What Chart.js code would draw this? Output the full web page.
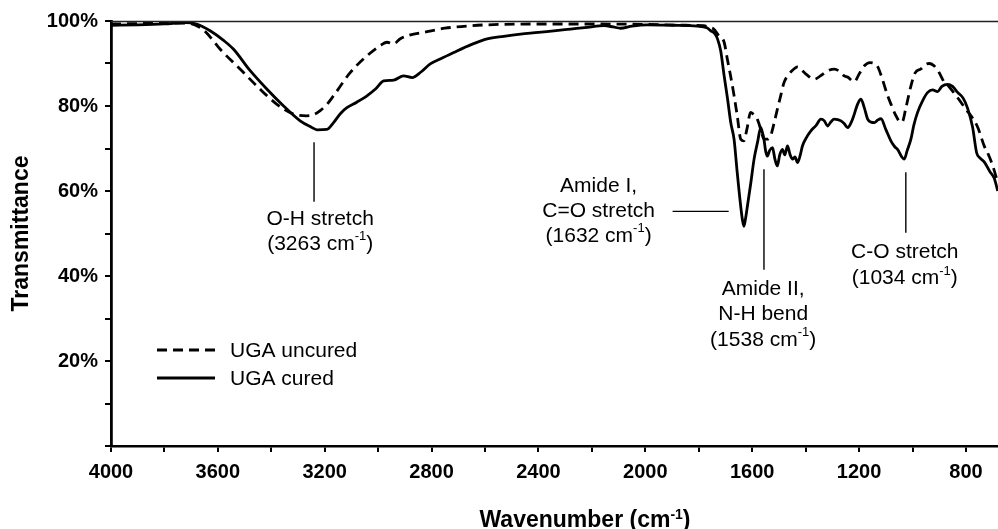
<!DOCTYPE html>
<html>
<head>
<meta charset="utf-8">
<script src="https://cdn.jsdelivr.net/npm/chart.js@4.4.1/dist/chart.umd.min.js"></script>
<style>
html,body{margin:0;padding:0;background:#fff;}
#wrap{width:998px;height:529px;position:relative;}
</style>
</head>
<body>
<div id="wrap"><canvas id="c" width="998" height="529"></canvas></div>
<script>
// ---------- data ----------
const seriesLabels = ['UGA uncured', 'UGA cured'];

const curedWn = [4000,3900,3800,3720,3680,3629,3580,3542,3479,3417,3354,3292,3250,3229,3192,3167,3140,3117,3080,3042,3010,2979,2942,2905,2873,2840,2805,2760,2717,2650,2592,2530,2467,2400,2343,2280,2217,2155,2120,2093,2050,1993,1900,1805,1770,1755,1740,1730,1718,1705,1693,1680,1668,1656,1643,1636,1631,1625,1618,1605,1593,1580,1568,1562,1556,1550,1543,1535,1524,1515,1506,1497,1487,1478,1468,1458,1449,1440,1430,1420,1412,1395,1381,1360,1343,1330,1318,1305,1293,1280,1268,1255,1243,1225,1205,1193,1180,1168,1155,1143,1130,1118,1100,1081,1065,1056,1040,1031,1020,1006,995,981,960,943,925,906,890,869,850,831,810,794,775,760,748,731,710,694,681];
const curedT  = [99.0,99.1,99.3,99.6,99.3,97.7,95.5,93.4,88.3,84.0,80.0,76.5,75.0,74.4,74.5,76.1,78.3,79.6,80.9,82.4,84.0,85.9,86.1,87.1,86.7,88.0,89.9,91.3,92.6,94.5,95.8,96.4,96.9,97.3,97.7,98.1,98.5,98.9,98.6,98.3,98.8,99.1,99.0,98.8,98.4,97.7,97.0,95.8,93.0,87.1,82.0,76.0,72.2,64.3,56.4,53.0,51.7,53.5,56.4,62.0,67.5,71.5,74.9,73.8,72.2,69.5,68.2,69.5,70.2,67.5,65.9,68.5,69.8,68.5,70.6,68.5,67.5,68.0,66.7,68.5,70.6,72.8,74.1,75.5,76.9,76.5,75.3,76.3,76.9,76.8,76.5,75.8,74.9,76.8,80.5,81.6,79.5,76.9,76.2,76.1,76.7,77.0,74.5,71.8,70.3,69.8,68.0,67.5,69.5,72.2,75.5,78.5,81.5,83.2,83.8,83.4,84.6,85.1,84.6,83.2,81.8,79.5,75.0,69.0,67.8,66.8,64.5,63.0,60.0];

const uncuredWn = [4000,3900,3800,3720,3670,3642,3592,3517,3454,3379,3317,3267,3240,3217,3190,3167,3104,3042,2990,2967,2942,2920,2892,2817,2750,2650,2592,2400,2217,2000,1850,1782,1760,1744,1725,1705,1693,1681,1668,1656,1643,1631,1620,1606,1595,1581,1568,1556,1543,1531,1518,1506,1493,1481,1462,1444,1430,1419,1395,1368,1340,1320,1293,1270,1256,1243,1218,1200,1181,1160,1143,1130,1118,1093,1081,1062,1045,1038,1025,1006,990,969,950,937,920,906,894,881,869,850,820,800,781,756,731,719,700,681];
const uncuredT  = [99.3,99.4,99.5,99.5,98.6,97.2,93.4,88.7,84.7,80.4,78.1,77.7,78.0,78.9,80.5,82.4,87.9,91.8,94.3,95.0,94.6,95.7,96.5,97.5,98.3,98.9,99.1,99.3,99.3,99.2,99.0,98.9,98.5,98.1,96.5,95.0,91.0,87.1,82.5,77.7,72.2,71.8,74.5,78.5,78.0,76.9,74.5,72.2,72.2,73.0,76.0,79.2,82.5,85.5,87.5,88.7,89.2,88.7,87.3,86.3,87.3,88.2,88.7,88.0,87.1,86.8,85.7,87.5,89.4,90.2,90.0,89.2,87.3,82.4,80.5,77.7,76.2,76.3,79.5,84.7,87.8,88.7,89.8,90.0,89.5,88.5,87.1,85.6,85.0,83.5,81.0,79.2,77.7,75.0,70.5,69.0,66.0,62.0];

const xTickValuesShown = [4000,3600,3200,2800,2400,2000,1600,1200,800];
const yTickValuesShown = [20,40,60,80,100];

// ---------- annotation labels (text) ----------
const annotTexts = [
  ['O-H stretch', '(3263 cm^-1^)'],
  ['Amide I,', 'C=O stretch', '(1632 cm^-1^)'],
  ['Amide II,', 'N-H bend', '(1538 cm^-1^)'],
  ['C-O stretch', '(1034 cm^-1^)']
];

const FONT = "'Liberation Sans', Arial, Helvetica, sans-serif";

const toXY = (wn, t) => wn.map((w, i) => ({x: w, y: t[i]}));

// annotation geometry in data coordinates (wavenumber, %)
const annotGeom = [
  {segs: [[[3240, 71.5], [3240, 57.5]]], tx: 3217, ty: [53.4, 47.5]},
  {segs: [[[1898, 55.2], [1688, 55.2]]], tx: 2175, ty: [61.1, 55.2, 49.3]},
  {segs: [[[1556, 65.1], [1556, 41.5]]], tx: 1559, ty: [36.8, 30.9, 25.0]},
  {segs: [[[1025, 64.4], [1025, 50.2]]], tx: 1029, ty: [45.5, 39.4]}
];

function drawRich(ctx, str, cx, cy, size, bold) {
  const parts = str.split('^');
  const w = (fw, s) => fw ? s * 0.62 : s;
  let total = 0;
  const fonts = parts.map((p, i) => (bold ? 'bold ' : '') + Math.round(i % 2 ? size * 0.62 : size) + 'px ' + FONT);
  parts.forEach((p, i) => { ctx.font = fonts[i]; total += ctx.measureText(p).width; });
  let x = cx - total / 2;
  ctx.textAlign = 'left';
  parts.forEach((p, i) => {
    ctx.font = fonts[i];
    ctx.fillText(p, x, i % 2 ? cy - size * 0.36 : cy);
    x += ctx.measureText(p).width;
  });
}

const extras = {
  id: 'extras',
  afterDatasetsDraw(chart) {
    const {ctx, chartArea, scales} = chart;
    const xs = scales.x, ys = scales.y;
    ctx.save();
    // top border line
    ctx.strokeStyle = '#222';
    ctx.lineWidth = 1.3;
    ctx.beginPath();
    ctx.moveTo(chartArea.left, chartArea.top + 0.5);
    ctx.lineTo(chartArea.right, chartArea.top + 0.5);
    ctx.stroke();

    // annotations
    ctx.fillStyle = '#000';
    ctx.strokeStyle = '#000';
    ctx.lineWidth = 1.4;
    ctx.textBaseline = 'middle';
    annotGeom.forEach((a, k) => {
      a.segs.forEach(s => {
        ctx.beginPath();
        ctx.moveTo(xs.getPixelForValue(s[0][0]), ys.getPixelForValue(s[0][1]));
        ctx.lineTo(xs.getPixelForValue(s[1][0]), ys.getPixelForValue(s[1][1]));
        ctx.stroke();
      });
      annotTexts[k].forEach((t, j) => {
        drawRich(ctx, t, xs.getPixelForValue(a.tx), ys.getPixelForValue(a.ty[j]), 21, false);
      });
    });

    // legend
    const ds = chart.data.datasets;
    const lx0 = chartArea.left + 46, lx1 = chartArea.left + 104;
    const ly = [chartArea.top + 329, chartArea.top + 357];
    ds.forEach((d, i) => {
      ctx.save();
      ctx.strokeStyle = '#000';
      ctx.lineWidth = 3;
      ctx.setLineDash(d.borderDash || []);
      ctx.beginPath();
      ctx.moveTo(lx0, ly[i]);
      ctx.lineTo(lx1, ly[i]);
      ctx.stroke();
      ctx.restore();
      ctx.font = '21px ' + FONT;
      ctx.textAlign = 'left';
      ctx.textBaseline = 'middle';
      ctx.fillText(d.label, lx0 + 73, ly[i] + 1);
    });

    // axis titles
    ctx.textBaseline = 'alphabetic';
    ctx.save();
    ctx.translate(28, (chartArea.top + chartArea.bottom) / 2 + 0);
    ctx.rotate(-Math.PI / 2);
    ctx.font = 'bold 23px ' + FONT;
    ctx.textAlign = 'center';
    ctx.fillText('Transmittance', 0, 0);
    ctx.restore();
    drawRich(ctx, 'Wavenumber (cm^-1^)', 585, 527, 23, true);
    ctx.restore();
  }
};

new Chart(document.getElementById('c'), {
  type: 'line',
  data: {
    datasets: [
      {label: seriesLabels[0], data: toXY(uncuredWn, uncuredT), borderColor: '#000', borderWidth: 2.8,
       borderDash: [10, 6], pointRadius: 0, fill: false, cubicInterpolationMode: 'monotone'},
      {label: seriesLabels[1], data: toXY(curedWn, curedT), borderColor: '#000', borderWidth: 2.8,
       pointRadius: 0, fill: false, cubicInterpolationMode: 'monotone'}
    ]
  },
  options: {
    responsive: false,
    animation: false,
    devicePixelRatio: 1,
    parsing: false,
    layout: {padding: {left: 0, top: 21, right: 0, bottom: 33}},
    plugins: {legend: {display: false}, tooltip: {enabled: false}},
    scales: {
      x: {
        type: 'linear', reverse: true, min: 680, max: 4000,
        ticks: {
          stepSize: 200, includeBounds: false, autoSkip: false, maxRotation: 0, padding: 8,
          color: '#000', font: {family: FONT, size: 20, weight: 'bold'},
          callback: v => xTickValuesShown.includes(v) ? String(v) : ''
        },
        grid: {drawOnChartArea: false, drawTicks: true, tickLength: 6, color: '#000', lineWidth: 2},
        border: {color: '#000', width: 2.5},
        afterFit: s => { s.height = 50; }
      },
      y: {
        min: 0, max: 100,
        ticks: {
          stepSize: 10, autoSkip: false, padding: 7,
          color: '#000', font: {family: FONT, size: 20, weight: 'bold'},
          callback: v => yTickValuesShown.includes(v) ? v + '%' : ''
        },
        grid: {drawOnChartArea: false, drawTicks: true, tickLength: 6, color: '#000', lineWidth: 2},
        border: {color: '#000', width: 2.8},
        afterFit: s => { s.width = 111; }
      }
    }
  },
  plugins: [extras]
});
</script>
</body>
</html>
